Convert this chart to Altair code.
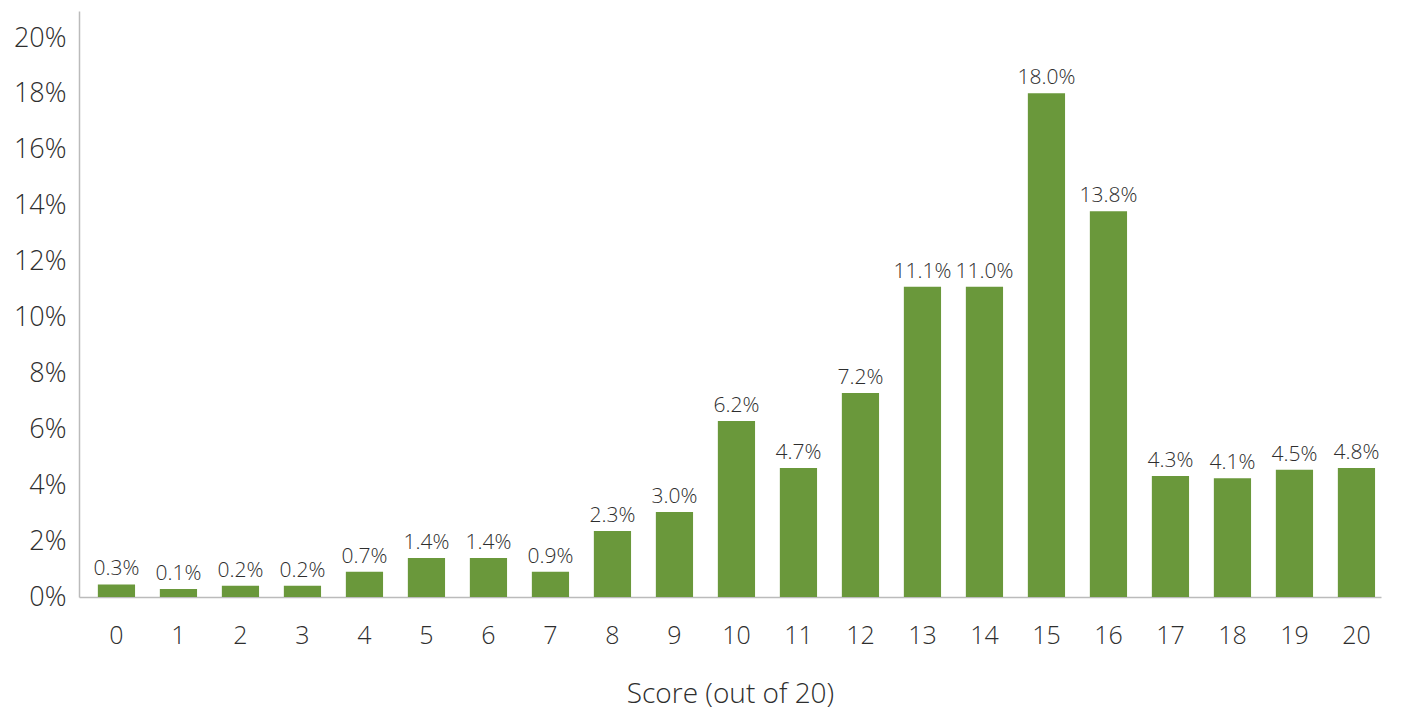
import altair as alt
import pandas as pd

scores = [str(i) for i in range(21)]
# bar heights as drawn (fraction)
heights = [0.0045, 0.0029, 0.0040, 0.0040, 0.0090, 0.0140, 0.0140, 0.0090, 0.0236, 0.0304,
           0.0630, 0.0462, 0.0730, 0.1110, 0.1110, 0.1803, 0.1380, 0.0433, 0.0425, 0.0455, 0.0462]
labels = ["0.3%", "0.1%", "0.2%", "0.2%", "0.7%", "1.4%", "1.4%", "0.9%", "2.3%", "3.0%",
          "6.2%", "4.7%", "7.2%", "11.1%", "11.0%", "18.0%", "13.8%", "4.3%", "4.1%", "4.5%", "4.8%"]
y_ticks = [0, 0.02, 0.04, 0.06, 0.08, 0.10, 0.12, 0.14, 0.16, 0.18, 0.20]

df = pd.DataFrame({"score": scores, "value": heights, "label": labels})

FONT = "Open Sans"
TXT = "#2e2e2e"

x = alt.X("score:N", sort=scores, title="Score (out of 20)",
          scale=alt.Scale(paddingInner=0.4, paddingOuter=0.2, align=0.76),
          axis=alt.Axis(labelAngle=0, labelFontSize=25, labelColor=TXT, labelFont=FONT,
                        labelFontWeight=300, ticks=False, labelPadding=26,
                        domainColor="#bbbbbb", domainWidth=1.5,
                        titleFontSize=28, titleFont=FONT, titleFontWeight=300,
                        titleColor=TXT, titlePadding=32))
y = alt.Y("value:Q", title=None,
          scale=alt.Scale(domain=[0, 0.2097], nice=False),
          axis=alt.Axis(values=y_ticks, format=".0%", grid=False, ticks=False,
                        labelFontSize=27, labelColor=TXT, labelFont=FONT,
                        labelFontWeight=300, labelPadding=13,
                        domainColor="#bbbbbb", domainWidth=1.5))

bars = alt.Chart(df).mark_bar(color="#6a983b").encode(x=x, y=y)
text = alt.Chart(df).mark_text(baseline="bottom", dy=-5, fontSize=21, font=FONT,
                               fontWeight=300, color=TXT).encode(
    x=alt.X("score:N", sort=scores), y="value:Q", text="label:N")

chart = (bars + text).properties(
    width=1302, height=586,
    autosize=alt.AutoSizeParams(type="none"),
    padding={"left": 71, "top": 3, "right": 10, "bottom": 120},
).configure(background="white", view=alt.ViewConfig(stroke=None))

chart.save("out.html", embed_options={"renderer": "svg", "actions": False})
